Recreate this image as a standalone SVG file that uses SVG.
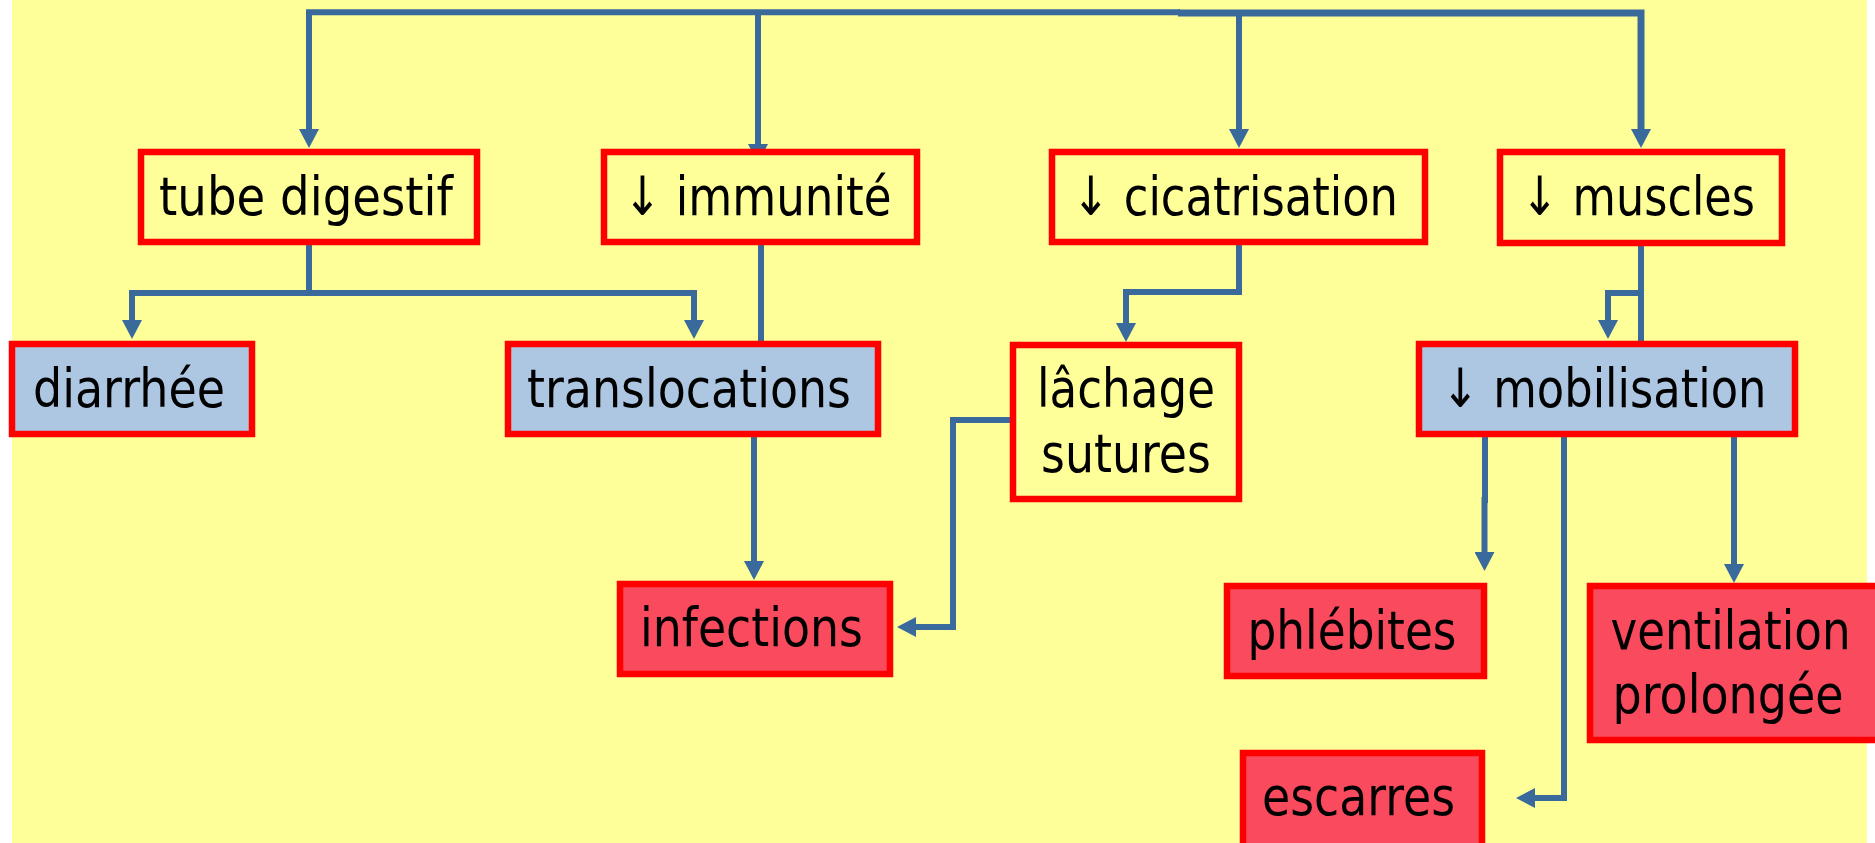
<svg xmlns="http://www.w3.org/2000/svg" width="1875" height="843" viewBox="0 0 1875 843">
<style>
.box{stroke:#FF0000;stroke-width:6.5}
.y{fill:#FFFF99}
.b{fill:#ADC7E3}
.r{fill:#F94A5E}
.t{font-family:"DejaVu Sans","Liberation Sans",sans-serif;font-size:54px;fill:#000;text-anchor:middle}
.c{fill:none;stroke:#3A6A9C;stroke-width:6}
</style>
<defs>
<marker id="ah" viewBox="0 0 19 20" refX="1" refY="10" markerWidth="19" markerHeight="20" markerUnits="userSpaceOnUse" orient="auto">
<path d="M0,0 L19,10 L0,20 z" fill="#3A6A9C"/>
</marker>
</defs>
<rect x="0" y="0" width="1875" height="843" fill="#FFFFFF"/>
<rect x="12" y="0" width="1855" height="843" fill="#FFFF99"/>
<g id="connectors">
<path class="c" d="M1180,12.2 H309 V130" marker-end="url(#ah)"/>
<path class="c" d="M758,12 V145" marker-end="url(#ah)"/>
<path class="c" d="M1178,13 H1641 V130" marker-end="url(#ah)" style="stroke-width:7"/>
<path class="c" d="M1239,13 V130" marker-end="url(#ah)"/>
<path class="c" d="M309,245 V293 H132 V321" marker-end="url(#ah)"/>
<path class="c" d="M309,293 H694 V321" marker-end="url(#ah)"/>
<path class="c" d="M761,245 V341"/>
<path class="c" d="M754,437 V562" marker-end="url(#ah)"/>
<path class="c" d="M1239,245 V292 H1126 V324" marker-end="url(#ah)"/>
<path class="c" d="M1010,420 H953 V627 H915" marker-end="url(#ah)"/>
<path class="c" d="M1641,246 V341"/>
<path class="c" d="M1641,293 H1608 V321" marker-end="url(#ah)"/>
<path class="c" d="M1485,437 V500 H1484.5 V553" marker-end="url(#ah)"/>
<path class="c" d="M1564,437 V798 H1534" marker-end="url(#ah)"/>
<path class="c" d="M1734,437 V565" marker-end="url(#ah)"/>
</g>
<g id="tube"><rect class="box y" x="141" y="152" width="336" height="90"/><text class="t" x="306" y="215" textLength="294" lengthAdjust="spacingAndGlyphs">tube digestif</text></g>
<g id="immunite"><rect class="box y" x="604" y="152" width="313" height="90"/><text class="t" x="757.5" y="215" textLength="268" lengthAdjust="spacingAndGlyphs">↓ immunité</text></g>
<g id="cicatrisation"><rect class="box y" x="1052" y="152" width="373" height="90"/><text class="t" x="1235" y="215" textLength="326" lengthAdjust="spacingAndGlyphs">↓ cicatrisation</text></g>
<g id="muscles"><rect class="box y" x="1500" y="152" width="282" height="91"/><text class="t" x="1638" y="215" textLength="234" lengthAdjust="spacingAndGlyphs">↓ muscles</text></g>
<g id="diarrhee"><rect class="box b" x="12" y="344" width="240" height="90"/><text class="t" x="129" y="407" textLength="192" lengthAdjust="spacingAndGlyphs">diarrhée</text></g>
<g id="translocations"><rect class="box b" x="508" y="344" width="370" height="90"/><text class="t" x="689" y="407" textLength="324" lengthAdjust="spacingAndGlyphs">translocations</text></g>
<g id="lachage"><rect class="box y" x="1013" y="345" width="226" height="154"/><text class="t" x="1126" y="407" textLength="178" lengthAdjust="spacingAndGlyphs">lâchage</text><text class="t" x="1126" y="472" textLength="170" lengthAdjust="spacingAndGlyphs">sutures</text></g>
<g id="mobilisation"><rect class="box b" x="1419" y="344" width="376" height="90"/><text class="t" x="1604" y="407" textLength="325" lengthAdjust="spacingAndGlyphs">↓ mobilisation</text></g>
<g id="infections"><rect class="box r" x="620" y="584" width="270" height="90"/><text class="t" x="751.5" y="646" textLength="223" lengthAdjust="spacingAndGlyphs">infections</text></g>
<g id="phlebites"><rect class="box r" x="1227" y="586" width="257" height="90"/><text class="t" x="1352" y="649" textLength="209" lengthAdjust="spacingAndGlyphs">phlébites</text></g>
<g id="ventilation"><rect class="box r" x="1590" y="586" width="290" height="154"/><text class="t" x="1730.5" y="649" textLength="240" lengthAdjust="spacingAndGlyphs">ventilation</text><text class="t" x="1728" y="713" textLength="231" lengthAdjust="spacingAndGlyphs">prolongée</text></g>
<g id="escarres"><rect class="box r" x="1243" y="753" width="239" height="95"/><text class="t" x="1358.5" y="815" textLength="193" lengthAdjust="spacingAndGlyphs">escarres</text></g>
</svg>
